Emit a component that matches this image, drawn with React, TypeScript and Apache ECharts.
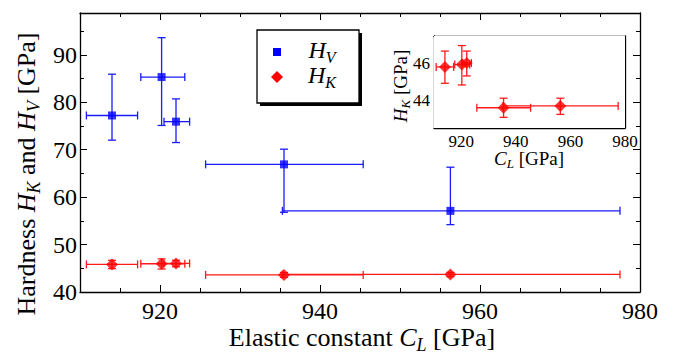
import React, { useEffect, useRef } from "react";
import * as echarts from "echarts";

// ---- data ----
const CL = [914.0, 920.2, 922.0, 935.5, 956.3];
const CL_lo = [910.8, 917.6, 920.5, 925.7, 935.3];
const CL_hi = [917.2, 923.1, 923.7, 945.4, 977.5];

const HV = [77.2, 85.3, 75.9, 66.9, 57.1];
const HV_lo = [72.0, 75.1, 71.5, 56.8, 54.2];
const HV_hi = [85.9, 93.6, 80.7, 70.1, 66.3];

const HK = [45.82, 45.95, 46.03, 43.6, 43.7];
const HK_lo = [44.93, 44.84, 45.33, 43.08, 43.24];
const HK_hi = [46.68, 46.98, 46.68, 44.12, 44.12];

// ---- ticks / labels ----
const xMajorTicks = [920, 940, 960];
const xLabels = [920, 940, 960, 980];
const xMinorTicks = [915, 925, 930, 935, 945, 950, 955, 965, 970, 975];
const yMajorTicks = [50, 60, 70, 80, 90];
const yLabels = [40, 50, 60, 70, 80, 90];
const yMinorTicks = [45, 55, 65, 75, 85, 95];
const insetXTicks = [920, 930, 940, 950, 960, 970];
const insetXLabels = [920, 940, 960, 980];
const insetYTicks = [43, 44, 45, 46, 47];
const insetYLabels = [44, 46];

const FAMILY = "'Liberation Serif', 'Times New Roman', serif";
const BLUE = "#1a1aff";
const RED = "#ff1a1a";

let measureCtx: CanvasRenderingContext2D | null = null;
function measure(text: string, size: number, italic: boolean) {
  if (!measureCtx) measureCtx = document.createElement("canvas").getContext("2d");
  measureCtx!.font = `${italic ? "italic " : ""}${size}px "Liberation Serif"`;
  return measureCtx!.measureText(text).width;
}

type Part = { t: string; it?: boolean; sub?: boolean };
function richLabel(parts: Part[], size: number, cx: number, cy: number, rotate = false, z = 20) {
  const items = parts.map((p) => {
    const fs = p.sub ? Math.round(size * 0.68) : size;
    return { ...p, fs, w: measure(p.t, fs, !!p.it) };
  });
  const W = items.reduce((a, b) => a + b.w, 0);
  let x = -W / 2;
  const children = items.map((p) => {
    const el = {
      type: "text",
      x,
      y: p.sub ? size * 0.3 : 0,
      z,
      style: {
        text: p.t,
        fontFamily: FAMILY,
        fontSize: p.fs,
        fontStyle: p.it ? "italic" : "normal",
        fill: "#000",
        align: "left",
        verticalAlign: "middle",
      },
    };
    x += p.w;
    return el;
  });
  return { type: "group", x: cx, y: cy, rotation: rotate ? Math.PI / 2 : 0, z, children };
}

function plainText(text: string, x: number, y: number, size: number, align: string) {
  return {
    type: "text",
    x,
    y,
    z: 20,
    style: {
      text,
      fontFamily: FAMILY,
      fontSize: size,
      fill: "#000",
      align,
      verticalAlign: "middle",
    },
  };
}

// tick-only axis (ticks at explicit values, labels drawn as serif text from the axis scale)
function tickAxis(gridIndex: number, position: string, min: number, max: number, ticks: number[], len: number, showLine: boolean) {
  return {
    type: "value",
    gridIndex,
    position,
    min,
    max,
    axisLine: { show: showLine, onZero: false, lineStyle: { color: "#000", width: 1.3 } },
    axisTick: { show: true, inside: true, length: len, customValues: ticks, lineStyle: { color: "#000", width: 1 } },
    axisLabel: { show: false },
    splitLine: { show: false },
  };
}

function errRender(color: string, cap: number) {
  return (params: any, api: any) => {
    const x = api.value(0);
    const y = api.value(1);
    const c = api.coord([x, y]);
    const l = api.coord([api.value(2), y]);
    const r = api.coord([api.value(3), y]);
    const b = api.coord([x, api.value(4)]);
    const t = api.coord([x, api.value(5)]);
    const st = { stroke: color, lineWidth: 1.3, fill: null };
    const line = (x1: number, y1: number, x2: number, y2: number) => ({
      type: "line",
      shape: { x1, y1, x2, y2 },
      style: st,
    });
    return {
      type: "group",
      children: [
        line(l[0], c[1], r[0], c[1]),
        line(l[0], c[1] - cap, l[0], c[1] + cap),
        line(r[0], c[1] - cap, r[0], c[1] + cap),
        line(c[0], b[1], c[0], t[1]),
        line(c[0] - cap, b[1], c[0] + cap, b[1]),
        line(c[0] - cap, t[1], c[0] + cap, t[1]),
      ],
    };
  };
}

export default function App() {
  const ref = useRef<HTMLDivElement>(null);
  useEffect(() => {
    if (!ref.current) return;
    const chart = echarts.init(ref.current, null, { renderer: "svg" });

    const hvRows = CL.map((x, i) => [x, HV[i], CL_lo[i], CL_hi[i], HV_lo[i], HV_hi[i]]);
    const hkRows = CL.map((x, i) => [x, HK[i], CL_lo[i], CL_hi[i], HK_lo[i], HK_hi[i]]);

    const baseGraphic: any[] = [
      // legend
      { type: "rect", z: 10, shape: { x: 260, y: 33, width: 102, height: 73 }, style: { fill: "#000" } },
      {
        type: "rect",
        z: 11,
        shape: { x: 257, y: 30, width: 102, height: 73 },
        style: { fill: "#fff", stroke: "#000", lineWidth: 1.3 },
      },
      { type: "rect", z: 12, shape: { x: 273, y: 48, width: 8, height: 8 }, style: { fill: "#0000ff" } },
      {
        type: "polygon",
        z: 12,
        shape: { points: [[277, 71], [283, 77], [277, 83], [271, 77]] },
        style: { fill: "#ff0000" },
      },
      richLabel([{ t: "H", it: true }, { t: "V", it: true, sub: true }], 24, 322, 50, false, 13),
      richLabel([{ t: "H", it: true }, { t: "K", it: true, sub: true }], 24, 322, 75, false, 13),
      // main axis titles
      richLabel(
        [{ t: "Elastic constant " }, { t: "C", it: true }, { t: "L", it: true, sub: true }, { t: " [GPa]" }],
        26,
        362,
        337
      ),
      richLabel(
        [
          { t: "Hardness " },
          { t: "H", it: true },
          { t: "K", it: true, sub: true },
          { t: " and " },
          { t: "H", it: true },
          { t: "V", it: true, sub: true },
          { t: " [GPa]" },
        ],
        26,
        26,
        174,
        true
      ),
      // inset titles
      richLabel([{ t: "C", it: true }, { t: "L", it: true, sub: true }, { t: " [GPa]" }], 19, 529, 158),
      richLabel([{ t: "H", it: true }, { t: "K", it: true, sub: true }, { t: " [GPa]" }], 19, 400, 86, true),
    ];

    const option: any = {
      animation: false,
      backgroundColor: "#fff",
      textStyle: { fontFamily: FAMILY },
      grid: [
        { left: 80, top: 13, width: 560, height: 279, show: false },
        { left: 434, top: 36, width: 191, height: 92, show: true, backgroundColor: "#fff", borderWidth: 0, z: 5 },
      ],
      xAxis: [
        tickAxis(0, "bottom", 910, 980, xMajorTicks, 7, true),
        tickAxis(0, "bottom", 910, 980, xMinorTicks, 4, false),
        tickAxis(0, "top", 910, 980, xMajorTicks, 7, true),
        tickAxis(0, "top", 910, 980, xMinorTicks, 4, false),
        tickAxis(1, "bottom", 910, 980, insetXTicks, 3, true),
        tickAxis(1, "top", 910, 980, insetXTicks, 3, true),
      ],
      yAxis: [
        tickAxis(0, "left", 40, 98.8, yMajorTicks, 7, true),
        tickAxis(0, "left", 40, 98.8, yMinorTicks, 4, false),
        tickAxis(0, "right", 40, 98.8, yMajorTicks, 7, true),
        tickAxis(0, "right", 40, 98.8, yMinorTicks, 4, false),
        tickAxis(1, "left", 42.5, 47.5, insetYTicks, 3, true),
        tickAxis(1, "right", 42.5, 47.5, insetYTicks, 3, true),
      ],
      series: [
        {
          type: "custom",
          name: "HV err",
          xAxisIndex: 0,
          yAxisIndex: 0,
          data: hvRows,
          encode: { x: 0, y: 1 },
          renderItem: errRender(BLUE, 4),
          z: 2,
        },
        {
          type: "custom",
          name: "HK err",
          xAxisIndex: 0,
          yAxisIndex: 0,
          data: hkRows,
          encode: { x: 0, y: 1 },
          renderItem: errRender(RED, 4),
          z: 2,
        },
        {
          type: "scatter",
          name: "HV",
          xAxisIndex: 0,
          yAxisIndex: 0,
          data: CL.map((x, i) => [x, HV[i]]),
          symbol: "rect",
          symbolSize: 8,
          itemStyle: { color: "#0000ff" },
          z: 3,
        },
        {
          type: "scatter",
          name: "HK",
          xAxisIndex: 0,
          yAxisIndex: 0,
          data: CL.map((x, i) => [x, HK[i]]),
          symbol: "diamond",
          symbolSize: 12,
          itemStyle: { color: "#ff0000" },
          z: 3,
        },
        {
          type: "custom",
          name: "HK inset err",
          xAxisIndex: 4,
          yAxisIndex: 4,
          data: hkRows,
          encode: { x: 0, y: 1 },
          renderItem: errRender(RED, 4),
          z: 6,
        },
        {
          type: "scatter",
          name: "HK inset",
          xAxisIndex: 4,
          yAxisIndex: 4,
          data: CL.map((x, i) => [x, HK[i]]),
          symbol: "diamond",
          symbolSize: 12,
          itemStyle: { color: "#ff0000" },
          z: 7,
        },
      ],
      graphic: baseGraphic,
    };
    chart.setOption(option);

    // tick labels positioned through the axes' own scales
    const px = (axis: string, index: number, v: number): number => {
      const r: any = chart.convertToPixel({ [axis]: index } as any, v);
      return Array.isArray(r) ? r[0] : r;
    };
    const labels: any[] = [
      ...xLabels.map((v) => plainText(String(v), px("xAxisIndex", 0, v), 311, 24, "center")),
      ...yLabels.map((v) => plainText(String(v), 77, px("yAxisIndex", 0, v), 24, "right")),
      ...insetXLabels.map((v) => plainText(String(v), px("xAxisIndex", 4, v), 141, 17, "center")),
      ...insetYLabels.map((v) => plainText(String(v), 430, px("yAxisIndex", 4, v), 17, "right")),
    ];
    chart.setOption({ graphic: [...baseGraphic, ...labels] });

    return () => chart.dispose();
  }, []);
  return (
    <div
      ref={ref}
      style={{ position: "absolute", left: 0, top: 0, width: 677, height: 358 }}
    />
  );
}
